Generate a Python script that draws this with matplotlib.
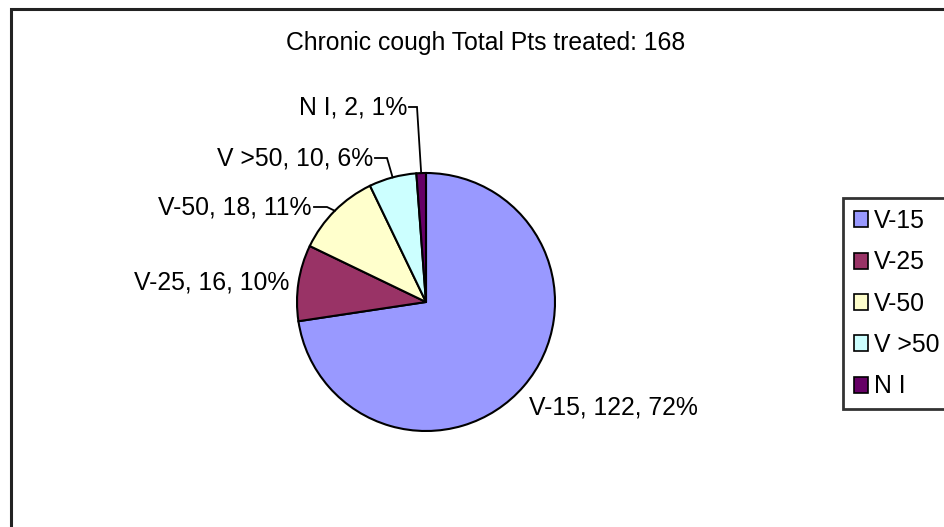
import matplotlib
matplotlib.use("Agg")
import matplotlib.pyplot as plt
from matplotlib.patches import Rectangle
import numpy as np

plt.rcParams['font.family'] = ['Liberation Sans', 'DejaVu Sans']

# ---- data ----
categories = ["V-15", "V-25", "V-50", "V >50", "N I"]
counts = [122, 16, 18, 10, 2]
percent_labels = ["72%", "10%", "11%", "6%", "1%"]
colors = ["#9999FF", "#993366", "#FFFFCC", "#CCFFFF", "#660066"]
title = "Chronic cough Total Pts treated: 168"

# ---- layout (pixel coordinates of the 945x527 canvas) ----
W, H = 945, 527
center_px = (426, 302)
radius_px = 129
# label anchor (x, y, ha) and optional leader corner x
label_pos = [(529, 407, "left", None),
             (289, 282, "right", None),
             (312, 207, "right", 327),
             (373, 158, "right", 387),
             (407, 107, "right", 417)]
FS = 17.8

fig = plt.figure(figsize=(W / 100, H / 100), dpi=100)
ax = fig.add_axes([0, 0, 1, 1])

def py(y):
    return H - y

wedges, _ = ax.pie(counts, colors=colors, startangle=90, counterclock=False,
                   center=(center_px[0], py(center_px[1])), radius=radius_px,
                   wedgeprops=dict(edgecolor="black", linewidth=1.5))
ax.set_xlim(0, W)
ax.set_ylim(0, H)
ax.set_aspect("equal")
ax.axis("off")

for w, cat, n, pc, (lx, ly, ha, corner) in zip(wedges, categories, counts, percent_labels, label_pos):
    ax.text(lx, py(ly), f"{cat}, {n}, {pc}", ha=ha, va="center", fontsize=FS, color="black")
    if corner is not None:
        mid = np.deg2rad((w.theta1 + w.theta2) / 2)
        ex = center_px[0] + radius_px * np.cos(mid)
        ey = py(center_px[1]) + radius_px * np.sin(mid)
        ax.plot([lx + 2, corner, ex], [py(ly), py(ly), ey], color="black", lw=1.3,
                solid_joinstyle="miter")

ax.text(486, py(43), title, ha="center", va="center", fontsize=FS, color="black")

# outer chart frame (extends beyond right/bottom edges)
fig.add_artist(Rectangle((11 / W, -0.2), 2, 1.2 - 9 / H, transform=fig.transFigure,
                         fill=False, edgecolor="#222222", linewidth=2.2))

leg = fig.legend(wedges, categories, loc="upper left",
                 bbox_to_anchor=(843 / W, 1 - 198 / H), bbox_transform=fig.transFigure,
                 fontsize=FS, frameon=True, fancybox=False, shadow=False,
                 handlelength=0.55, handleheight=0.62, handletextpad=0.25,
                 labelspacing=0.70, borderpad=0.45, borderaxespad=0)
leg.get_frame().set_edgecolor("black")
leg.get_frame().set_linewidth(2)
for h in leg.legend_handles:
    h.set_linewidth(1.2)
    h.set_edgecolor("black")

fig.savefig("out.png", dpi=100, facecolor="white")
